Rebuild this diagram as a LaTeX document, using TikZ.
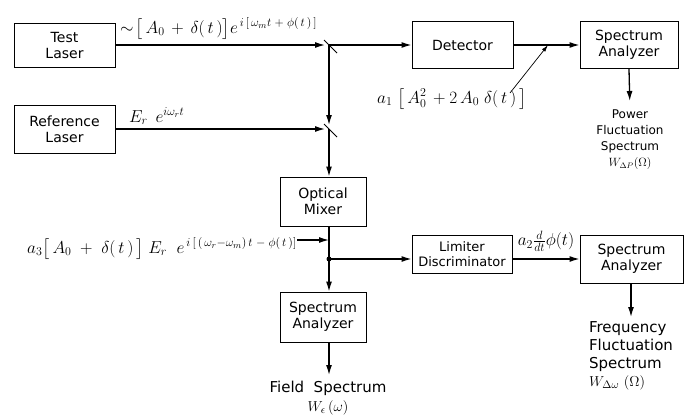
\documentclass[tikz,border=0pt]{standalone}
\usepackage{amsmath}
\usepackage{fontspec}
\setmainfont{DejaVu Sans}
\usetikzlibrary{arrows.meta}
\DeclareMathSizes{16}{16}{12}{9}
\DeclareMathSizes{15}{15}{11}{8}
\tikzset{
  blk/.style={draw, line width=0.9pt, align=center, inner sep=1pt, font=\fontsize{14}{16}\selectfont},
  sig/.style={line width=1.3pt, -{Latex[length=10pt,width=6pt]}},
  wire/.style={line width=1.3pt},
  lbl/.style={inner sep=0pt, font=\fontsize{16}{19}\selectfont},
  outtxt/.style={inner sep=0pt, font=\fontsize{15}{18}\selectfont},
}
\begin{document}
\begin{tikzpicture}[x=1pt,y=-1pt]
\useasboundingbox (0,0) rectangle (686,418);
\node[blk, minimum width=101pt, minimum height=44pt] (test) at (64.5,45) {Test\\Laser};
\node[blk, minimum width=101pt, minimum height=48pt] (ref) at (64.5,129) {Reference\\Laser};
\node[blk, minimum width=101pt, minimum height=47pt] (det) at (462.5,45) {Detector};
\node[blk, minimum width=98pt, minimum height=47pt] (saP) at (629,45) {Spectrum\\Analyzer};
\node[blk, minimum width=86pt, minimum height=49pt] (mix) at (323,201.5) {Optical\\Mixer};
\node[blk, minimum width=86pt, minimum height=50pt] (saF) at (323,317) {Spectrum\\Analyzer};
\node[blk, minimum width=100pt, minimum height=38pt, font=\fontsize{13}{15}\selectfont] (lim) at (462,254) {Limiter\\Discriminator};
\node[blk, minimum width=103pt, minimum height=48pt] (saW) at (631.5,259) {Spectrum\\Analyzer};
\coordinate (sp1) at (329,45);
\coordinate (sp2) at (329,129);
\coordinate (jn) at (329,259);
\coordinate (mixin) at (329,240);
\coordinate (a1tip) at (548,45);
\coordinate (a1tail) at (510,93);
\node[lbl, anchor=base west] (tl) at (120,33) {$\sim\!\bigl[\,A_0\,+\,\delta(\,t\,)\bigr]e^{\,i\,[\,\omega_m t\;+\;\phi(\,t\,)\,]}$};
\node[lbl, anchor=base west] (rl) at (129,122) {$E_r\;\,e^{i\omega_r t}$};
\node[lbl, anchor=base west] (a1) at (377,103) {$a_1\;\bigl[\,A_0^2\,+2\,A_0\;\delta(\,t\,)\,\bigr]$};
\node[lbl, anchor=base east] (m3) at (297,253) {$a_3\bigl[\,A_0\;+\;\delta(\,t\,)\,\bigr]\;E_r\;\;e^{\,i\,[\,(\,\omega_r-\omega_m)\,t\;-\;\phi(\,t\,)]}$};
\node[lbl, anchor=south] (a2) at (546,252) {$a_2\frac{d}{dt}\phi(t)$};
\node[inner sep=0pt, font=\fontsize{12}{16}\selectfont, anchor=north, align=center] (pwr) at (630,110) {Power\\Fluctuation\\Spectrum\\$W_{\Delta P}(\Omega)$};
\node[outtxt, anchor=north, align=left] (frq) at (631,321) {Frequency\\Fluctuation\\Spectrum\\$W_{\Delta\omega}\ (\Omega)$};
\node[outtxt, anchor=north, align=center, font=\fontsize{15}{19}\selectfont] (fld) at (328,381) {Field\ \ Spectrum\\$W_\epsilon\,(\omega)$};
\draw[sig, shorten >=4pt] (test.east |- sp1) -- (sp1);
\draw[sig] (sp1) -- (det.west |- sp1);
\draw[sig] (det.east |- sp1) -- (saP.west |- sp1);
\draw[sig, shorten >=4pt] (ref.east |- sp2) -- (sp2);
\draw[sig, shorten >=4pt] (sp1) -- (sp2);
\draw[sig] (sp2) -- (sp2 |- mix.north);
\draw[line width=1pt] (sp1) +(-5,-5) -- +(8,8);
\draw[line width=1pt] (sp2) +(-5,-5) -- +(8,8);
\draw[wire] (jn |- mix.south) -- (jn);
\draw[sig] (jn) -- (jn |- saF.north);
\fill (jn) circle (2.5pt);
\draw[sig] (m3.east |- mixin) -- (mixin);
\draw[sig] (jn) -- (lim.west |- jn);
\draw[sig] (lim.east |- jn) -- (saW.west |- jn);
\draw[-{Latex[length=7pt,width=4pt]}, line width=0.7pt] (a1tail) -- (a1tip);
\draw[sig, shorten >=9pt] (saP.south) -- (pwr.north);
\draw[sig, shorten >=4pt] (saW.south -| frq.north) -- (frq.north);
\draw[sig, shorten >=6pt] (saF.south -| jn) -- (fld.north -| jn);
\end{tikzpicture}
\end{document}
